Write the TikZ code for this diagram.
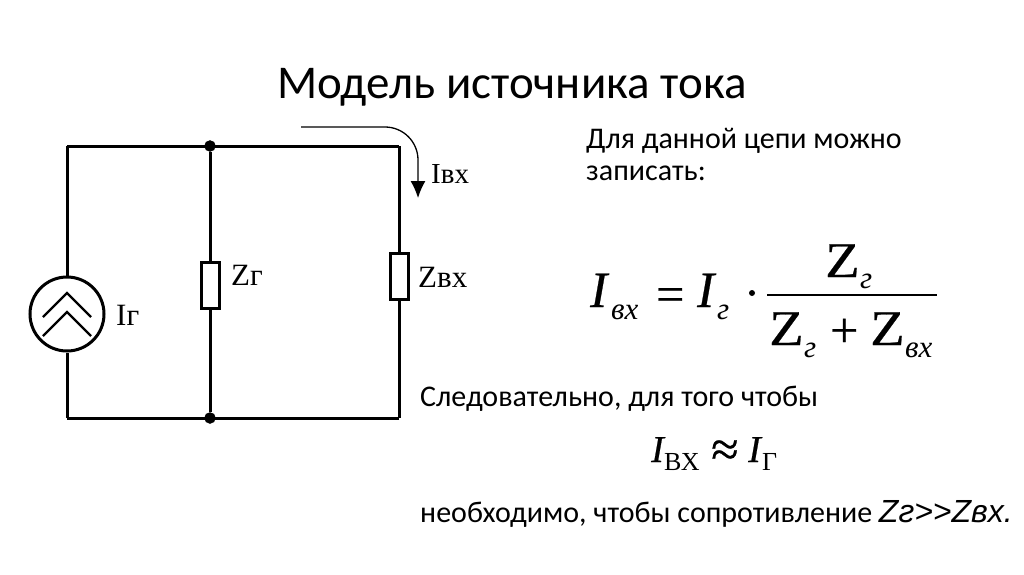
\documentclass[tikz,border=0pt]{standalone}
\usepackage{fontspec}
\setmainfont{Carlito}
\newfontfamily\circfont{Liberation Serif}
\newfontfamily\frmfont[FakeBold=0.5]{Liberation Serif}
\newfontfamily\zbigfont[FakeBold=0.5,FakeStretch=1.13]{Liberation Serif}
\newfontfamily\zfont{Liberation Sans}
\usetikzlibrary{arrows.meta}
\tikzset{
  wire/.style={line width=3pt},
  txt/.style={anchor=base west,inner sep=0pt,font=\fontsize{30}{32}\selectfont},
  lbl/.style={anchor=base west,inner sep=0pt,font=\circfont\fontsize{31}{33}\selectfont},
  frm/.style={anchor=base west,inner sep=0pt,font=\frmfont\itshape\fontsize{51}{53}\selectfont},
  frmr/.style={anchor=base west,inner sep=0pt,font=\frmfont\fontsize{50}{52}\selectfont},
  frmz/.style={anchor=base west,inner sep=0pt,font=\zbigfont\fontsize{50}{52}\selectfont},
  sub/.style={anchor=base west,inner sep=0pt,font=\circfont\itshape\fontsize{31}{33}\selectfont},
  res/.style={draw,line width=3pt,fill=white,minimum width=18pt,minimum height=46pt,inner sep=0pt},
  src/.style={draw,circle,line width=3pt,fill=white,minimum size=74pt,inner sep=0pt},
  junc/.style={draw,circle,fill=black,minimum size=11pt,inner sep=0pt},
}
\begin{document}
\begin{tikzpicture}[x=1pt,y=-1pt]
  \useasboundingbox (0,0) rectangle (1024,574);
  \draw
    (512,98) node[anchor=base,inner sep=0pt,font=\fontsize{47}{50}\selectfont] (title){Модель источника тока}
    (67,146) coordinate (tl)
    (67,418) coordinate (bl)
    (399,146) coordinate (tr)
    (399,418) coordinate (br)
    (301,127) coordinate (curstart)
    (418,198) coordinate (curend)
    (210,146) node[junc] (jtop){}
    (210,418) node[junc] (jbot){}
    (67,314) node[src] (gen){}
    (210,285) node[res] (zg){}
    (399,276) node[res] (zin){}
    (116,325) node[lbl] (ilabel){Iг}
    (231,285) node[lbl] (zglabel){Zг}
    (418,287) node[lbl] (zinlabel){Zвх}
    (431,183) node[lbl,font=\circfont\fontsize{29}{31}\selectfont] (curlabel){Iвх};
  \begin{scope}[wire]
    \draw (tl) to (tr);
    \draw (bl) to (br);
    \draw (tl) to (gen);
    \draw (gen) to (bl);
    \draw (jtop) to (zg);
    \draw (zg) to (jbot);
    \draw (tr) to (zin);
    \draw (zin) to (br);
  \end{scope}
  \draw[line width=2.4pt] (43,317) -- (67,293) -- (91,317);
  \draw[line width=2.4pt] (43,336) -- (67,312) -- (91,336);
  \draw[line width=1.3pt,rounded corners=33pt,-{Latex[length=17pt,width=15pt]}] (curstart) -| (curend);
  % formula
  \draw
    (590,307) node[frm] (ia){I}
    (611,319) node[sub] (ia1){вх}
    (656,311) node[frmr] (eqa){=}
    (697,307) node[frm] (ib){I}
    (717,319) node[sub] (ib1){г}
    (752,293) node[circle,fill=black,minimum size=6pt,inner sep=0pt] (dota){}
    (825,277) node[frmz] (za){Z}
    (860,288) node[sub] (za1){г}
    (769,345) node[frmz] (zb){Z}
    (804,357) node[sub] (zb1){г}
    (830,347) node[frmr] (plus){+}
    (870,345) node[frmz] (zc){Z}
    (905,357) node[sub] (zc1){вх}
    (767,295) coordinate (fracl)
    (937,295) coordinate (fracr);
  \draw[line width=2pt] (fracl) to (fracr);
  \draw
    (586,148) node[txt] (line1){Для данной цепи можно}
    (586,180) node[txt] (line2){записать:}
    (420,406) node[txt] (line3){Следовательно, для того чтобы}
    (420,522) node[txt] (line4){необходимо, чтобы сопротивление {\zfont\itshape\fontsize{32}{34}\selectfont Zг>>Zвх.}};
  \draw
    (651,462) node[anchor=base west,inner sep=0pt,font=\frmfont\itshape\fontsize{38}{40}\selectfont] (ic){I}
    (664,470) node[anchor=base west,inner sep=0pt,font=\circfont\fontsize{26}{28}\selectfont] (ic1){ВХ}
    (711,466) node[anchor=base west,inner sep=0pt,font=\frmfont\fontsize{50}{52}\selectfont] (approx){≈}
    (748,462) node[anchor=base west,inner sep=0pt,font=\frmfont\itshape\fontsize{38}{40}\selectfont] (id){I}
    (762,470) node[anchor=base west,inner sep=0pt,font=\circfont\fontsize{26}{28}\selectfont] (id1){Г};
\end{tikzpicture}
\end{document}
